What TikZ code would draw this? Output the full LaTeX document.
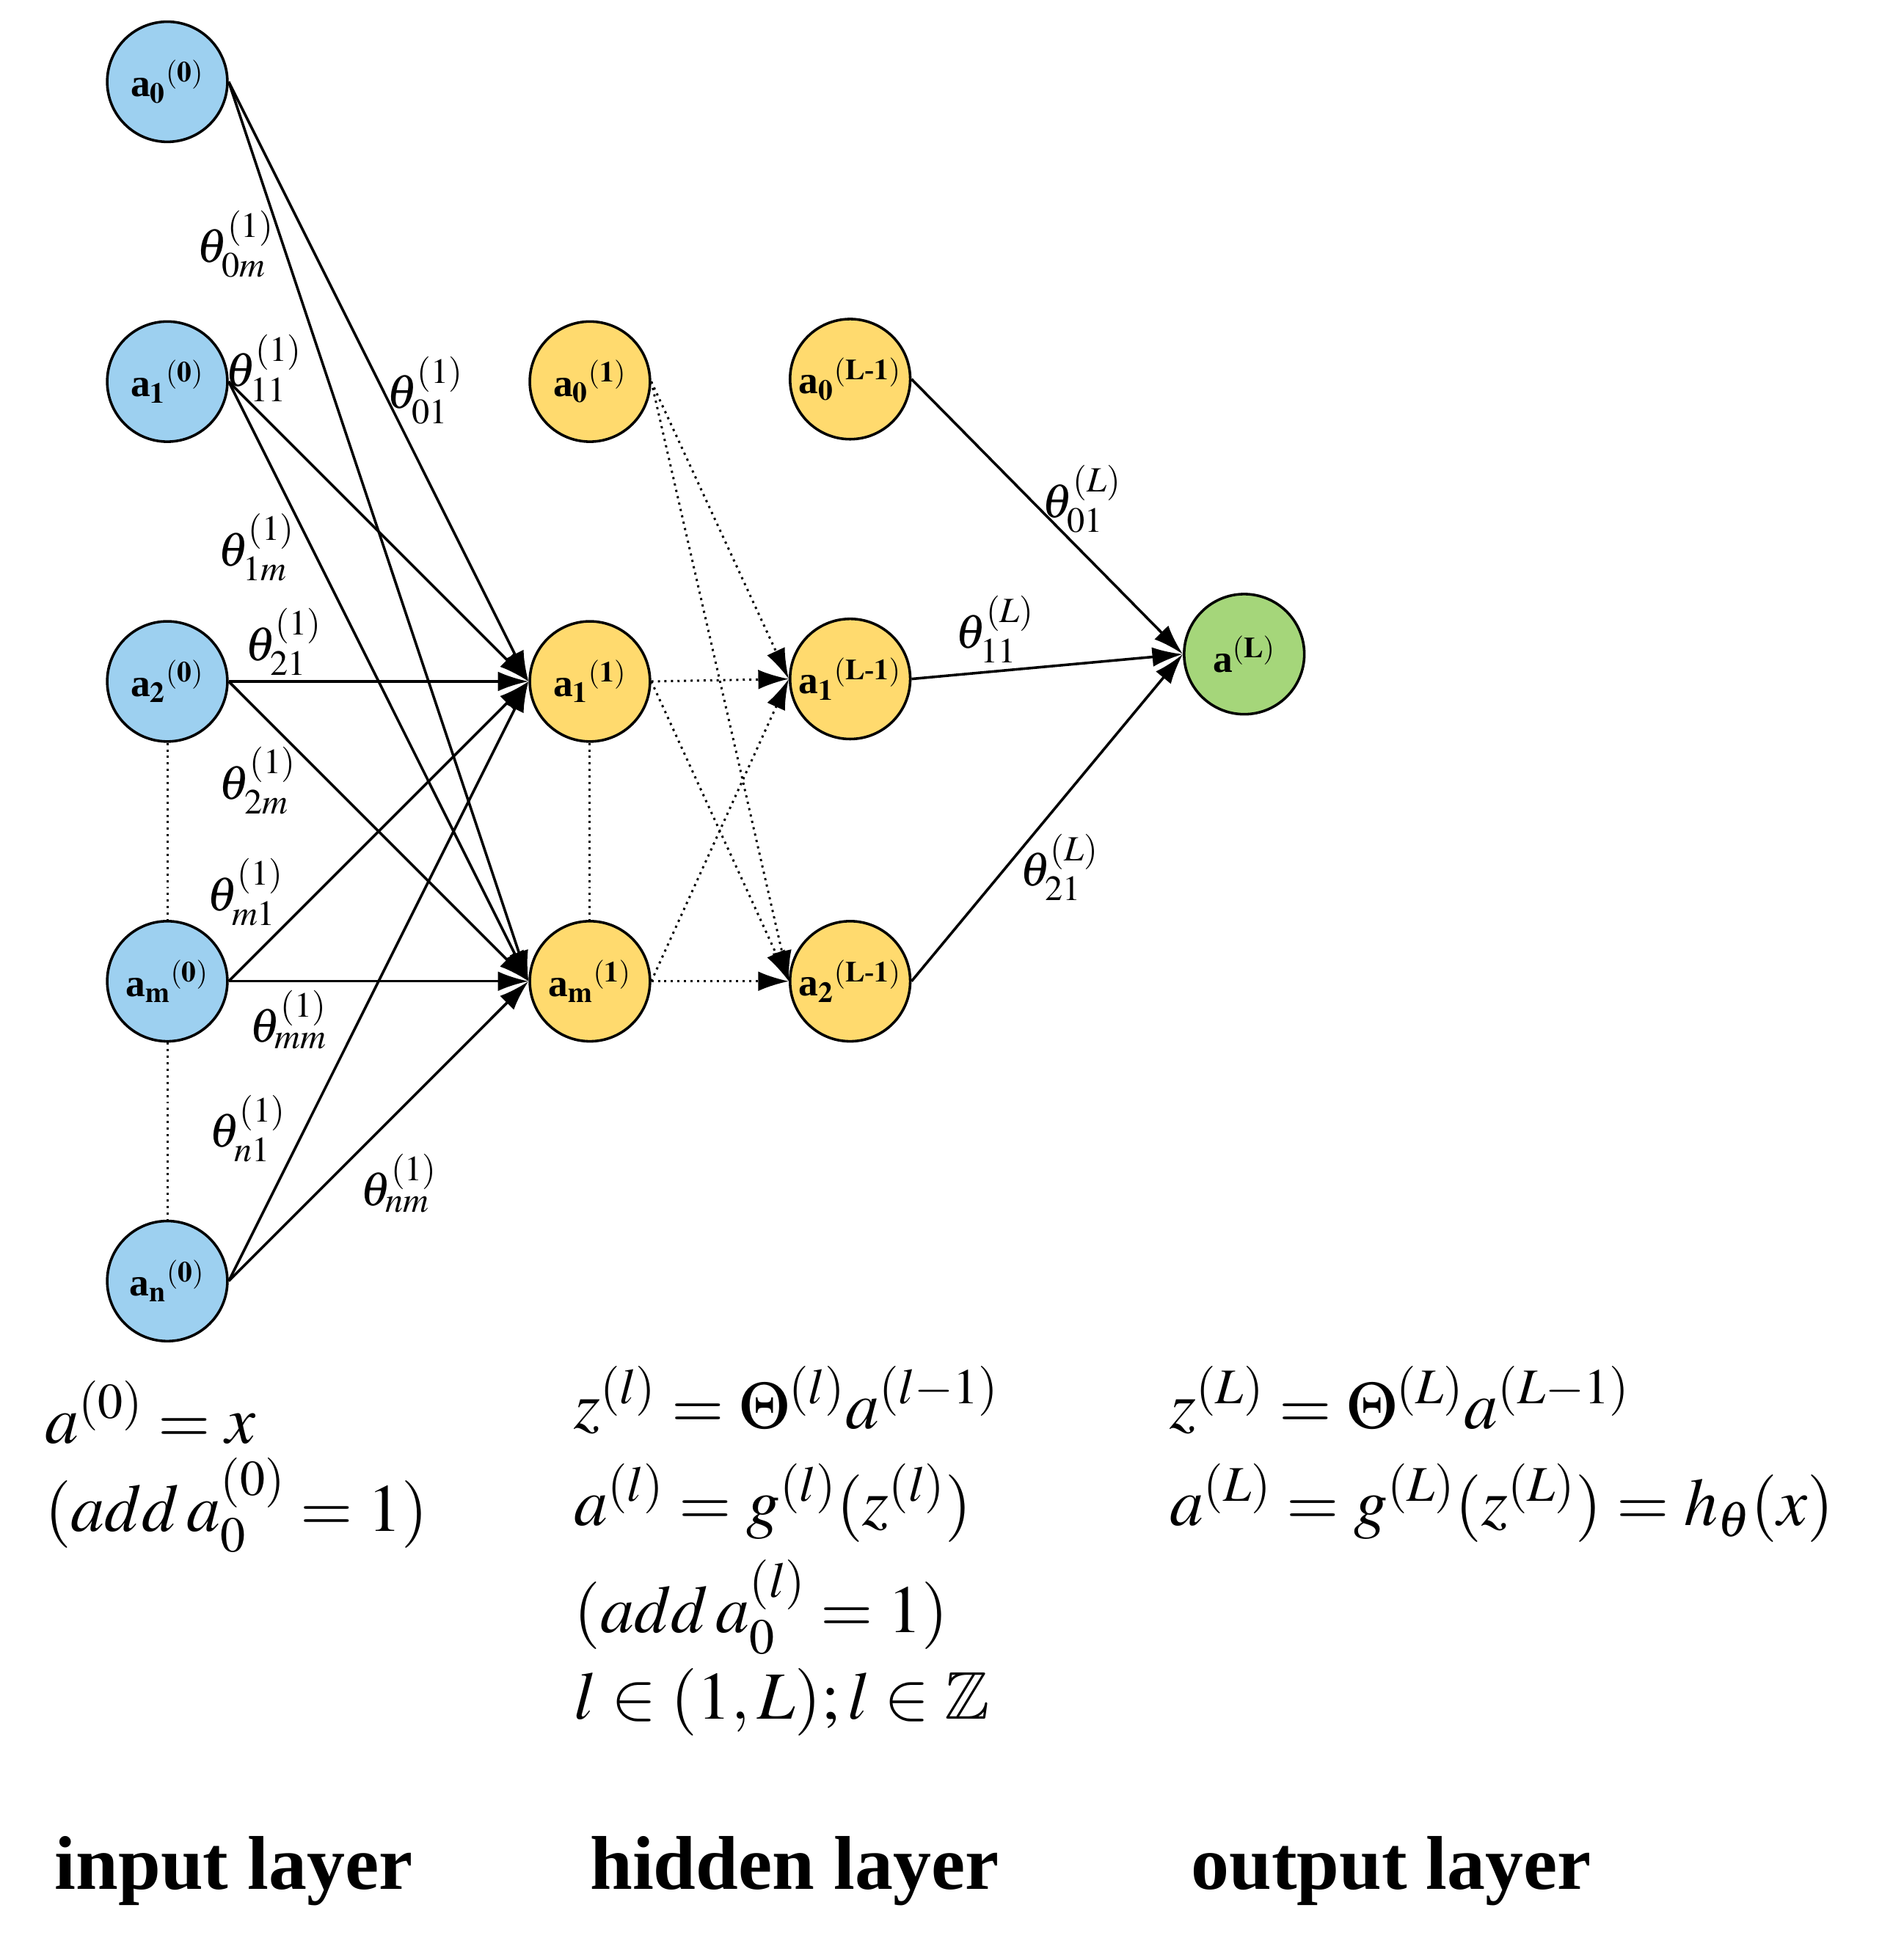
\documentclass[tikz,border=0pt]{standalone}
\usepackage{mathptmx}
\usepackage{amsmath,amssymb}
\usepackage[no-math]{fontspec}
\setmainfont{Liberation Serif}
\usetikzlibrary{arrows.meta}
\begin{document}
\begin{tikzpicture}[x=0.02cm,y=-0.02cm,
  neu/.style={circle,draw,line width=1.2pt,minimum size=1.94cm,inner sep=0pt,font=\fontsize{18}{20}\selectfont\bfseries},
  inp/.style={neu,fill={rgb,255:red,157;green,208;blue,240}},
  hid/.style={neu,fill={rgb,255:red,255;green,218;blue,110}},
  outn/.style={neu,fill={rgb,255:red,165;green,214;blue,122}},
  e/.style={line width=1.2pt,-{Latex[length=14pt,width=9pt]}},
  d/.style={dotted,line width=1pt},
  de/.style={dotted,line width=1pt,-{Latex[length=14pt,width=9pt]}},
  w/.style={font=\fontsize{22}{24}\selectfont},
  eq/.style={anchor=west,font=\fontsize{31}{36}\selectfont},
  lay/.style={anchor=west,font=\fontsize{35}{38}\selectfont\bfseries}]
\useasboundingbox (0,0) rectangle (1527,1582);
\node[inp] (i0) at (135,66) {a$_\mathbf{0}$$^\mathbf{(0)}$};
\node[inp] (i1) at (135,308) {a$_\mathbf{1}$$^\mathbf{(0)}$};
\node[inp] (i2) at (135,550) {a$_\mathbf{2}$$^\mathbf{(0)}$};
\node[inp] (im) at (135,792) {a$_\mathbf{m}$$^\mathbf{(0)}$};
\node[inp] (in) at (135,1034) {a$_\mathbf{n}$$^\mathbf{(0)}$};
\node[hid] (h0) at (476,308) {a$_\mathbf{0}$$^\mathbf{(1)}$};
\node[hid] (h1) at (476,550) {a$_\mathbf{1}$$^\mathbf{(1)}$};
\node[hid] (hm) at (476,792) {a$_\mathbf{m}$$^\mathbf{(1)}$};
\node[hid] (l0) at (686,306) {a$_\mathbf{0}$$^{\mathbf{(L\text{\bfseries -}1)}}$};
\node[hid] (l1) at (686,548) {a$_\mathbf{1}$$^{\mathbf{(L\text{\bfseries -}1)}}$};
\node[hid] (l2) at (686,792) {a$_\mathbf{2}$$^{\mathbf{(L\text{\bfseries -}1)}}$};
\node[outn] (o) at (1004,528) {a$^\mathbf{(L)}$};
\foreach \s in {i0,i1,i2,im,in}{
  \draw[e] (\s.east) -- (h1.west);
  \draw[e] (\s.east) -- (hm.west);}
\draw[d] (i2) -- (im); \draw[d] (im) -- (in); \draw[d] (h1) -- (hm);
\foreach \s in {h0,h1,hm}{
  \draw[de] (\s.east) -- (l1.west);
  \draw[de] (\s.east) -- (l2.west);}
\foreach \s in {l0,l1,l2} \draw[e] (\s.east) -- (o.west);
\node[w] (w1) at (190,197) {$\theta^{(1)}_{0m}$};
\node[w] (w2) at (213,297) {$\theta^{(1)}_{11}$};
\node[w] (w3) at (343,315) {$\theta^{(1)}_{01}$};
\node[w] (w4) at (207,442) {$\theta^{(1)}_{1m}$};
\node[w] (w5) at (229,518) {$\theta^{(1)}_{21}$};
\node[w] (w6) at (208,630) {$\theta^{(1)}_{2m}$};
\node[w] (w7) at (198,720) {$\theta^{(1)}_{m1}$};
\node[w] (w8) at (233,823) {$\theta^{(1)}_{mm}$};
\node[w] (w9) at (200,911) {$\theta^{(1)}_{n1}$};
\node[w] (w10) at (322,955) {$\theta^{(1)}_{nm}$};
\node[w] (w11) at (873,403) {$\theta^{(L)}_{01}$};
\node[w] (w12) at (803,508) {$\theta^{(L)}_{11}$};
\node[w] (w13) at (855,700) {$\theta^{(L)}_{21}$};
\node[eq] (t1) at (30,1140) {$a^{(0)}=x$};
\node[eq] (t2) at (30,1215) {$(add\,a^{(0)}_0=1)$};
\node[eq] (t3) at (457,1130) {$z^{(l)}=\Theta^{(l)}a^{(l-1)}$};
\node[eq] (t4) at (457,1213) {$a^{(l)}=g^{(l)}(z^{(l)})$};
\node[eq] (t5) at (457,1297) {$(add\,a^{(l)}_0=1)$};
\node[eq] (t6) at (457,1374) {$l\in(1,L);l\in\mathbb{Z}$};
\node[eq] (t7) at (938,1130) {$z^{(L)}=\Theta^{(L)}a^{(L-1)}$};
\node[eq] (t8) at (938,1213) {$a^{(L)}=g^{(L)}(z^{(L)})=h_\theta(x)$};
\node[lay] (L1) at (38,1510) {input layer};
\node[lay] (L2) at (470,1510) {hidden layer};
\node[lay] (L3) at (955,1510) {output layer};
\end{tikzpicture}
\end{document}
